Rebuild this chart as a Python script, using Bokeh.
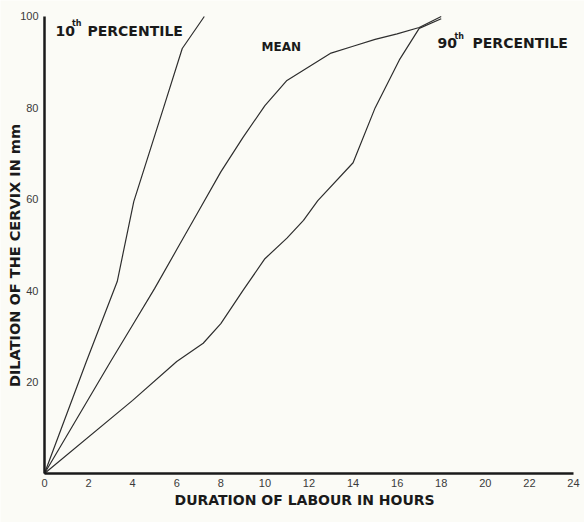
import math
from bokeh.plotting import figure
from bokeh.models import Range1d, FixedTicker, Label
from bokeh.embed import file_html
from bokeh.resources import INLINE

# Data (hours, dilation mm)
p10_hours = [0, 1.9, 3.3, 4.05, 5.4, 6.25, 7.25]
p10_dil = [0, 24.5, 42, 59.5, 80, 93, 100]

mean_hours = [0, 3, 4, 5, 6, 7, 8, 9, 10, 11, 12, 13, 14, 15, 16, 17, 18]
mean_dil = [0, 24.5, 32.5, 40.5, 49, 57.5, 66, 73.5, 80.5, 86, 89, 92, 93.5, 95, 96.2, 97.6, 100]

p90_hours = [0, 4, 6, 7.2, 8, 9, 10, 11, 11.75, 12.4, 14, 15, 16.1, 17, 18]
p90_dil = [0, 16, 24.5, 28.5, 32.8, 40, 47, 51.5, 55.4, 59.7, 68, 80, 90.5, 97.4, 99.5]

x_ticks = [0, 2, 4, 6, 8, 10, 12, 14, 16, 18, 20, 22, 24]
y_ticks = [20, 40, 60, 80, 100]

x_title = "DURATION OF LABOUR IN HOURS"
y_title = "DILATION OF THE CERVIX IN mm"

BG = "#fbfbf6"
INK = "#2e2e2e"
BOLD = "DejaVu Sans"

# frame fills the canvas; axes are pinned at the origin so the titles sit inside the frame
p = figure(width=584, height=522, output_backend="svg", toolbar_location=None,
           x_range=Range1d(-1.996, 24.50), y_range=Range1d(-10.72, 103.5),
           min_border_left=0, min_border_right=0, min_border_top=0, min_border_bottom=0)
p.background_fill_color = BG
p.border_fill_color = BG
p.outline_line_color = None
p.grid.visible = False

for xs, ys in [(p10_hours, p10_dil), (mean_hours, mean_dil), (p90_hours, p90_dil)]:
    p.line(xs, ys, line_color=INK, line_width=1.2)

# Axes
p.xaxis.ticker = FixedTicker(ticks=x_ticks)
p.yaxis.ticker = FixedTicker(ticks=y_ticks)
p.xaxis.fixed_location = 0
p.yaxis.fixed_location = 0
p.xaxis.bounds = (0, 24)
p.yaxis.bounds = (0, 100)
for ax in (p.xaxis[0], p.yaxis[0]):
    ax.axis_line_color = "#1a1a1a"
    ax.axis_line_width = 2.5
    ax.major_tick_line_color = None
    ax.minor_tick_line_color = None
    ax.major_tick_out = 0
    ax.major_tick_in = 0
    ax.major_label_text_font = "Liberation Sans"
    ax.major_label_text_color = "#3a3a3a"
    ax.major_label_text_font_size = "11px"

p.xaxis.major_label_standoff = 5
p.yaxis.major_label_standoff = 6

# Axis titles
p.add_layout(Label(x=11.8, y=-5.7, text=x_title, text_font=BOLD, text_font_style="bold",
                   text_font_size="14px", text_color="#1a1a1a",
                   text_align="center", text_baseline="middle"))
p.add_layout(Label(x=-1.32, y=47.7, text=y_title, text_font=BOLD, text_font_style="bold",
                   text_font_size="14.5px", text_color="#1a1a1a", angle=math.pi / 2,
                   text_align="center", text_baseline="middle"))

# Curve labels
def lab(x, y, text, size="14px"):
    p.add_layout(Label(x=x, y=y, text=text, text_font=BOLD, text_font_style="bold",
                       text_font_size=size, text_color="#1a1a1a", text_baseline="middle",
                       text_align="left"))

lab(0.5, 96.9, "10")
lab(1.25, 98.4, "th", size="8px")
lab(1.95, 96.9, "PERCENTILE")
lab(9.85, 93.3, "MEAN", size="12px")
lab(17.83, 94.1, "90")
lab(18.6, 95.6, "th", size="8px")
lab(19.42, 94.1, "PERCENTILE")

open("out.html", "w").write(file_html(p, INLINE))
